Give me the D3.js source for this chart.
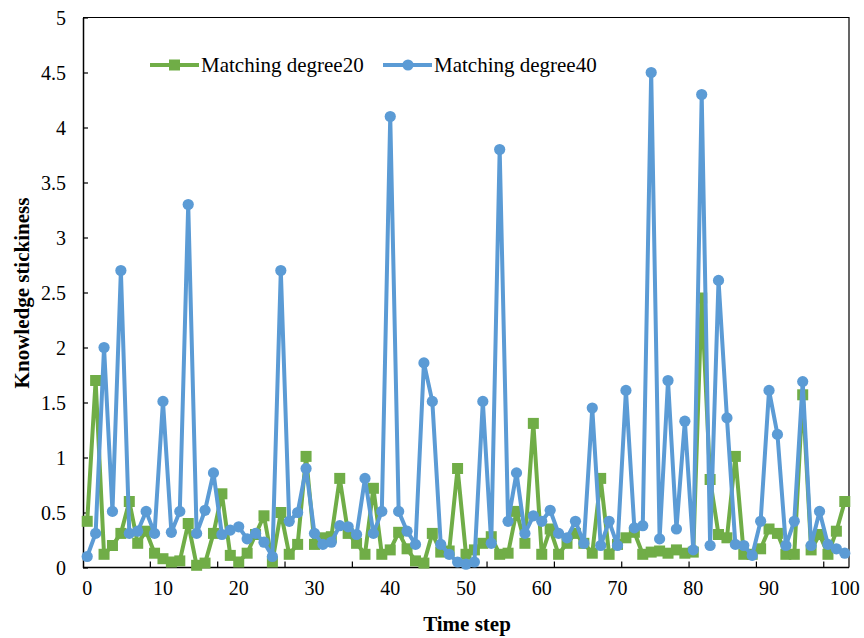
<!DOCTYPE html>
<html>
<head>
<meta charset="utf-8">
<script src="https://cdn.jsdelivr.net/npm/d3@7"></script>
<style>
  html, body { margin: 0; padding: 0; background: #fff; }
  svg { display: block; }
  text { font-family: "Liberation Serif", "Times New Roman", serif; fill: #000; }
</style>
</head>
<body>
<svg id="chart" width="864" height="638"></svg>
<script>
const seriesNames = ["Matching degree20", "Matching degree40"];
const degree20 = [0.42,1.70,0.12,0.20,0.31,0.60,0.22,0.33,0.13,0.08,
  0.05,0.06,0.40,0.02,0.04,0.31,0.67,0.11,0.05,0.13,
  0.30,0.47,0.05,0.50,0.12,0.21,1.01,0.21,0.27,0.28,
  0.81,0.31,0.22,0.12,0.72,0.12,0.16,0.32,0.17,0.06,
  0.04,0.31,0.14,0.15,0.90,0.12,0.16,0.22,0.28,0.12,
  0.13,0.51,0.22,1.31,0.12,0.35,0.12,0.22,0.31,0.22,
  0.13,0.81,0.12,0.21,0.27,0.32,0.12,0.14,0.15,0.13,
  0.16,0.13,0.14,2.45,0.80,0.30,0.27,1.01,0.12,0.12,
  0.17,0.35,0.31,0.12,0.12,1.57,0.16,0.30,0.12,0.33,
  0.60];
const degree40 = [0.10,0.31,2.00,0.51,2.70,0.31,0.33,0.51,0.31,1.51,
  0.32,0.51,3.30,0.31,0.52,0.86,0.30,0.34,0.37,0.26,
  0.31,0.23,0.10,2.70,0.42,0.50,0.90,0.31,0.21,0.23,
  0.38,0.37,0.30,0.81,0.31,0.51,4.10,0.51,0.33,0.21,
  1.86,1.51,0.21,0.12,0.05,0.03,0.05,1.51,0.22,3.80,
  0.42,0.86,0.31,0.47,0.42,0.52,0.31,0.27,0.42,0.22,
  1.45,0.20,0.42,0.20,1.61,0.36,0.38,4.50,0.26,1.70,
  0.35,1.33,0.16,4.30,0.20,2.61,1.36,0.21,0.20,0.11,
  0.42,1.61,1.21,0.20,0.42,1.69,0.20,0.51,0.21,0.17,
  0.13];
const xTickLabels = [0,10,20,30,40,50,60,70,80,90,100];
const yTickValues = [0,0.5,1,1.5,2,2.5,3,3.5,4,4.5,5];
const colors = ["#70AD47", "#5B9BD5"];

const svg = d3.select("#chart");
const L = 83, R = 849, T = 17.5, B = 567.5;
const steps = degree20.map((d, i) => i);

const xBand = d3.scaleBand().domain(steps).range([L, R]).paddingInner(0).paddingOuter(0);
const xc = i => xBand(i) + xBand.bandwidth() / 2;
const xLab = d3.scaleLinear().domain([0, 100]).range([xc(0), xc(steps.length - 1)]);
const y = d3.scaleLinear().domain([0, 5]).range([B, T]);

// plot frame (top and right)
svg.append("path")
  .attr("d", `M${L},${T}H${R}V${B}`)
  .attr("fill", "none").attr("stroke", "#000").attr("stroke-width", 1.2);

// y axis
const yAxis = d3.axisLeft(y).tickValues(yTickValues).tickSizeInner(-5).tickSizeOuter(0)
  .tickFormat(d => d3.format("")(d));
const gy = svg.append("g").attr("transform", `translate(${L},0)`).call(yAxis);
gy.select(".domain").attr("stroke", "#000").attr("stroke-width", 1.5);
gy.selectAll(".tick line").attr("stroke", "#000").attr("stroke-width", 1.2);
gy.selectAll(".tick text").attr("x", -17).attr("dy", "0.35em")
  .style("font-size", "20px").style("font-family", "Liberation Serif, serif");

// x axis: tick marks at category boundaries every 8 categories
const tickCats = steps.filter(i => i % 8 === 0 && i > 0);
const gx = svg.append("g");
gx.append("line").attr("x1", L).attr("x2", R).attr("y1", B).attr("y2", B)
  .attr("stroke", "#000").attr("stroke-width", 1.5);
gx.selectAll("line.tk").data(tickCats).join("line").attr("class", "tk")
  .attr("x1", d => xBand(d)).attr("x2", d => xBand(d))
  .attr("y1", B).attr("y2", B - 6).attr("stroke", "#000").attr("stroke-width", 1.2);
gx.selectAll("text.lb").data(xTickLabels).join("text").attr("class", "lb")
  .attr("x", d => xLab(d)).attr("y", 595)
  .attr("text-anchor", "middle").style("font-size", "20px").text(d => d);

// axis titles
svg.append("text").attr("x", 467).attr("y", 631).attr("text-anchor", "middle")
  .style("font-size", "21px").style("font-weight", "bold").text("Time step");
svg.append("text").attr("transform", "translate(29,293) rotate(-90)").attr("text-anchor", "middle")
  .style("font-size", "21px").style("font-weight", "bold").text("Knowledge stickiness");

// series
const line = d3.line().x((d, i) => xc(i)).y(d => y(d));
const plot = svg.append("g");

plot.append("path").datum(degree20).attr("d", line)
  .attr("fill", "none").attr("stroke", colors[0]).attr("stroke-width", 4).attr("stroke-linejoin", "round");
plot.selectAll("rect.m20").data(degree20).join("rect").attr("class", "m20")
  .attr("x", (d, i) => xc(i) - 5.5).attr("y", d => y(d) - 5.5)
  .attr("width", 11).attr("height", 11).attr("fill", colors[0]);

plot.append("path").datum(degree40).attr("d", line)
  .attr("fill", "none").attr("stroke", colors[1]).attr("stroke-width", 4).attr("stroke-linejoin", "round");
plot.selectAll("circle.m40").data(degree40).join("circle").attr("class", "m40")
  .attr("cx", (d, i) => xc(i)).attr("cy", d => y(d)).attr("r", 5.6).attr("fill", colors[1]);

// legend
const legendItems = [
  { name: seriesNames[0], color: colors[0], x: 150, shape: "square" },
  { name: seriesNames[1], color: colors[1], x: 383, shape: "circle" }
];
const leg = svg.append("g");
legendItems.forEach(it => {
  const g = leg.append("g").attr("transform", `translate(${it.x},65)`);
  g.append("line").attr("x1", 0).attr("x2", 49).attr("y1", 0).attr("y2", 0)
    .attr("stroke", it.color).attr("stroke-width", 4);
  if (it.shape === "square") {
    g.append("rect").attr("x", 19).attr("y", -5.5).attr("width", 11).attr("height", 11).attr("fill", it.color);
  } else {
    g.append("circle").attr("cx", 25).attr("cy", 0).attr("r", 5.6).attr("fill", it.color);
  }
  g.append("text").attr("x", 51).attr("y", 7).style("font-size", "21px").text(it.name);
});
</script>
</body>
</html>
